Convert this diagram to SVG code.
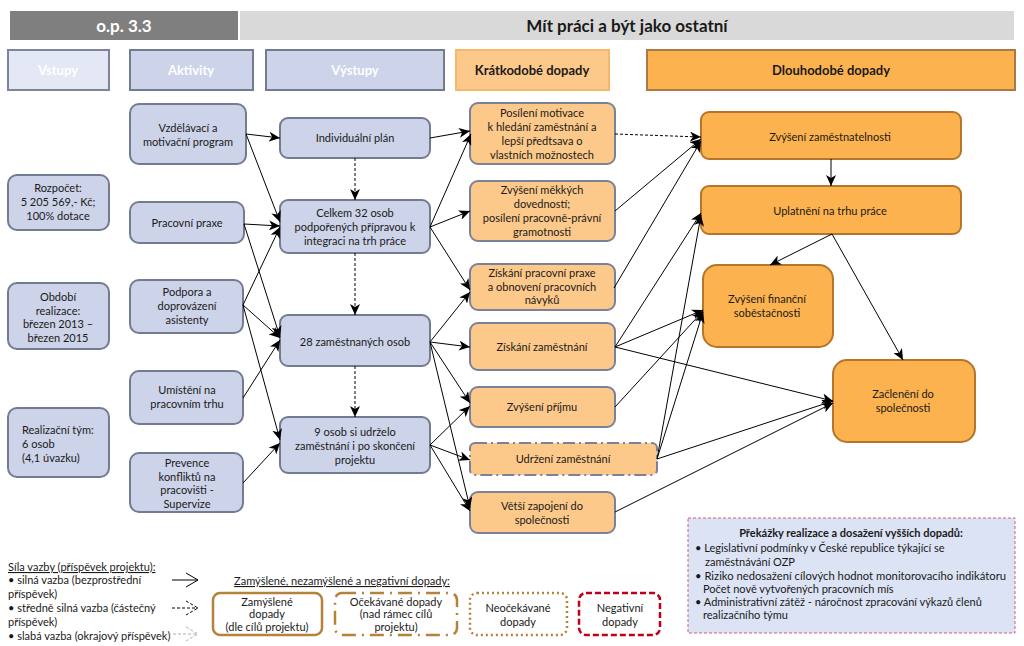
<svg xmlns="http://www.w3.org/2000/svg" width="1024" height="646" viewBox="0 0 1024 646">
<defs>
<marker id="ah" markerUnits="userSpaceOnUse" markerWidth="12" markerHeight="10" refX="11" refY="5" orient="auto">
<path d="M0,0 L11,5 L0,10 L3,5 z" fill="#000"/>
</marker>
<style>
text{font-family:Lato,"Liberation Sans",sans-serif;font-size:11px;fill:#1a1a1a;text-anchor:middle}
.hd{font-weight:bold;font-size:13px}
.wh{fill:#fff}
.blue{fill:#cdd3e8;stroke:#737b93;stroke-width:2}
.sh{fill:#fdc98a;stroke:#7b8196;stroke-width:2}
.lg{fill:#fbb24f;stroke:#b5752a;stroke-width:2}
.c{fill:none;stroke:#000;stroke-width:1;marker-end:url(#ah)}
.d{stroke-dasharray:3,2}
.l{text-anchor:start}
.lb{fill:#fff;stroke:#b5823c;stroke-width:2.5}
</style>
</defs>
<rect width="1024" height="646" fill="#fff"/>

<g id="header">
<rect x="10" y="11" width="228" height="29" fill="#7f7f7f"/>
<text x="124" y="32" class="wh" style="font-weight:bold;font-size:17px">o.p. 3.3</text>
<rect x="240" y="11" width="774" height="29" fill="#d9d9d9"/>
<text x="627" y="32" style="font-weight:bold;font-size:17px">Mít práci a být jako ostatní</text>
</g>

<g id="col-headers">
<rect x="8" y="50" width="101" height="40" fill="#e4e8f4" stroke="#7c849c" stroke-width="2"/>
<text x="58" y="75" class="hd wh">Vstupy</text>
<rect x="130" y="50" width="123" height="40" fill="#cdd3e8" stroke="#737b93" stroke-width="2"/>
<text x="191" y="75" class="hd wh">Aktivity</text>
<rect x="266" y="50" width="178" height="40" fill="#cdd3e8" stroke="#737b93" stroke-width="2"/>
<text x="355" y="75" class="hd wh">Výstupy</text>
<rect x="456" y="50" width="153" height="40" fill="#fdc98a" stroke="#f5b86a" stroke-width="2"/>
<text x="532" y="75" class="hd">Krátkodobé dopady</text>
<rect x="647" y="50" width="368" height="40" fill="#fbb24f" stroke="#a87a45" stroke-width="2"/>
<text x="831" y="75" class="hd">Dlouhodobé dopady</text>
</g>

<g id="n-rozpocet"><rect x="8" y="175" width="101" height="55" rx="9" class="blue"/>
<text x="58" y="192">Rozpočet:</text><text x="58" y="206">5 205 569,- Kč;</text><text x="58" y="220">100% dotace</text></g>
<g id="n-obdobi"><rect x="8" y="283" width="101" height="66" rx="9" class="blue"/>
<text x="58" y="301">Období</text><text x="58" y="315">realizace:</text><text x="58" y="328">březen 2013  –</text><text x="58" y="342">březen 2015</text></g>
<g id="n-tym"><rect x="8" y="408" width="101" height="69" rx="9" class="blue"/>
<text x="22" y="434" class="l">Realizační tým:</text><text x="22" y="448" class="l">6 osob</text><text x="22" y="462" class="l">(4,1 úvazku)</text></g>

<g id="n-vzdel"><rect x="130" y="104" width="116" height="60" rx="9" class="blue"/>
<text x="188" y="132">Vzdělávací a</text><text x="188" y="146">motivační program</text></g>
<g id="n-praxe"><rect x="130" y="202" width="114" height="41" rx="9" class="blue"/>
<text x="187" y="227">Pracovní praxe</text></g>
<g id="n-podpora"><rect x="130" y="280" width="113" height="53" rx="9" class="blue"/>
<text x="187" y="296">Podpora a</text><text x="187" y="310">doprovázení</text><text x="187" y="324">asistenty</text></g>
<g id="n-umisteni"><rect x="130" y="371" width="113" height="53" rx="9" class="blue"/>
<text x="187" y="394">Umístění na</text><text x="187" y="408">pracovním trhu</text></g>
<g id="n-prevence"><rect x="130" y="453" width="113" height="59" rx="9" class="blue"/>
<text x="187" y="467">Prevence</text><text x="187" y="481">konfliktů na</text><text x="187" y="494">pracovišti -</text><text x="187" y="508">Supervize</text></g>

<g id="n-plan"><rect x="280" y="118" width="150" height="40" rx="8" class="blue"/>
<text x="355" y="142">Individuální plán</text></g>
<g id="n-celkem"><rect x="280" y="200" width="150" height="53" rx="8" class="blue"/>
<text x="355" y="217">Celkem 32 osob</text><text x="355" y="231">podpořených přípravou k</text><text x="355" y="245">integraci na trh práce</text></g>
<g id="n-28"><rect x="280" y="315" width="150" height="51" rx="8" class="blue"/>
<text x="355" y="346">28 zaměstnaných osob</text></g>
<g id="n-9"><rect x="280" y="417" width="150" height="56" rx="8" class="blue"/>
<text x="355" y="436">9 osob si udrželo</text><text x="355" y="450">zaměstnání i po skončení</text><text x="355" y="464">projektu</text></g>

<g id="n-motivace"><rect x="470" y="103" width="145" height="61" rx="8" class="sh"/>
<text x="542" y="117">Posílení  motivace</text><text x="542" y="131">k hledání zaměstnání a</text><text x="542" y="145">lepší předtsava o</text><text x="542" y="159">vlastních možnostech</text></g>
<g id="n-mekke"><rect x="470" y="181" width="145" height="60" rx="8" class="sh"/>
<text x="542" y="194">Zvýšení měkkých</text><text x="542" y="208">dovedností;</text><text x="542" y="222">posílení pracovně-právní</text><text x="542" y="236">gramotnosti</text></g>
<g id="n-praxe2"><rect x="470" y="264" width="145" height="46" rx="8" class="sh"/>
<text x="542" y="277">Získání  pracovní praxe</text><text x="542" y="291">a obnovení pracovních</text><text x="542" y="304">návyků</text></g>
<g id="n-ziskani"><rect x="470" y="323" width="145" height="47" rx="8" class="sh"/>
<text x="542" y="351">Získání  zaměstnání</text></g>
<g id="n-prijem"><rect x="470" y="387" width="145" height="40" rx="8" class="sh"/>
<text x="542" y="411">Zvýšení příjmu</text></g>
<g id="n-udrzeni"><rect x="470" y="443" width="187" height="32" rx="5" fill="#fdc98a" stroke="#7b8196" stroke-width="2" stroke-dasharray="12,4,2,4"/>
<text x="563" y="463">Udržení  zaměstnání</text></g>
<g id="n-zapojeni"><rect x="470" y="492" width="145" height="41" rx="8" class="sh"/>
<text x="542" y="510">Větší zapojení do</text><text x="542" y="524">společnosti</text></g>

<g id="n-zamestnatelnost"><rect x="701" y="112" width="260" height="47" rx="8" class="lg"/>
<text x="830" y="141">Zvýšení zaměstnatelnosti</text></g>
<g id="n-uplatneni"><rect x="701" y="186" width="260" height="48" rx="8" class="lg"/>
<text x="830" y="215">Uplatnění na trhu práce</text></g>
<g id="n-financni"><rect x="703" y="265" width="130" height="82" rx="14" class="lg"/>
<text x="767" y="303">Zvýšení finanční</text><text x="767" y="317">soběstačnosti</text></g>
<g id="n-zacleneni"><rect x="833" y="360" width="142" height="82" rx="14" class="lg"/>
<text x="903" y="398">Začlenění do</text><text x="903" y="412">společnosti</text></g>

<g id="connectors">
<line x1="246" y1="134" x2="280" y2="138" class="c"/>
<line x1="246" y1="134" x2="280" y2="222" class="c"/>
<line x1="244" y1="224" x2="280" y2="226" class="c"/>
<line x1="244" y1="224" x2="280" y2="337" class="c"/>
<line x1="243" y1="305" x2="280" y2="227" class="c"/>
<line x1="243" y1="305" x2="280" y2="338" class="c"/>
<line x1="243" y1="305" x2="280" y2="440" class="c"/>
<line x1="243" y1="398" x2="280" y2="340" class="c"/>
<line x1="243" y1="483" x2="280" y2="443" class="c"/>

<line x1="355" y1="158" x2="355" y2="200" class="c d"/>
<line x1="355" y1="253" x2="355" y2="315" class="c d"/>
<line x1="355" y1="366" x2="355" y2="417" class="c d"/>

<line x1="430" y1="138" x2="470" y2="131" class="c"/>
<line x1="430" y1="227" x2="471" y2="134" class="c"/>
<line x1="430" y1="227" x2="470" y2="211" class="c"/>
<line x1="430" y1="227" x2="470" y2="290" class="c"/>
<line x1="430" y1="342" x2="470" y2="292" class="c"/>
<line x1="430" y1="342" x2="470" y2="347" class="c"/>
<line x1="430" y1="342" x2="470" y2="403" class="c"/>
<line x1="430" y1="342" x2="470" y2="508" class="c"/>
<line x1="430" y1="445" x2="470" y2="406" class="c"/>
<line x1="430" y1="445" x2="470" y2="460" class="c"/>
<line x1="430" y1="445" x2="470" y2="511" class="c"/>

<line x1="615" y1="134" x2="701" y2="137" class="c d"/>
<line x1="615" y1="211" x2="701" y2="139" class="c"/>
<line x1="614" y1="288" x2="701" y2="141" class="c"/>
<line x1="615" y1="347" x2="701" y2="213" class="c"/>
<line x1="657" y1="459" x2="701" y2="215" class="c"/>
<line x1="615" y1="347" x2="703" y2="310" class="c"/>
<line x1="615" y1="407" x2="703" y2="311" class="c"/>
<line x1="657" y1="459" x2="703" y2="312" class="c"/>
<line x1="615" y1="347" x2="833" y2="401" class="c"/>
<line x1="657" y1="459" x2="833" y2="401" class="c"/>
<line x1="615" y1="512" x2="833" y2="403" class="c"/>
<line x1="831" y1="159" x2="831" y2="186" class="c"/>
<line x1="832" y1="234" x2="770" y2="265" class="c"/>
<line x1="832" y1="234" x2="903" y2="360" class="c"/>
</g>

<g id="legend-strength">
<text x="8" y="571" class="l" text-decoration="underline">Síla vazby (příspěvek projektu):</text>
<text x="8" y="584" class="l">• silná vazba (bezprostřední</text>
<text x="8" y="598" class="l">příspěvek)</text>
<text x="8" y="612" class="l">• středně silná vazba (částečný</text>
<text x="8" y="626" class="l">příspěvek)</text>
<text x="8" y="640" class="l">• slabá vazba (okrajový příspěvek)</text>
<g fill="none" stroke="#000" stroke-width="1">
<path d="M172,580 H198 M186,573 L198,580 L186,587"/>
<path d="M172,608 H198 M186,601 L198,608 L186,615" stroke-dasharray="3,2"/>
<path d="M168,634 H198 M186,627 L198,634 L186,641" stroke="#b0b0b0" stroke-dasharray="3,2"/>
</g>
</g>

<g id="legend-impacts">
<text x="342" y="585" text-decoration="underline">Zamýšlené, nezamýšlené a negativní dopady:</text>
<rect x="213" y="593" width="109" height="42" rx="7" class="lb"/>
<text x="267" y="606">Zamýšlené</text><text x="267" y="618">dopady</text><text x="267" y="631">(dle cílů projektu)</text>
<rect x="335" y="593" width="122" height="42" rx="7" class="lb" stroke-dasharray="14,6,2,6"/>
<text x="396" y="606">Očekávané dopady</text><text x="396" y="618">(nad rámec  cílů</text><text x="396" y="631">projektu)</text>
<rect x="470" y="593" width="97" height="42" rx="7" class="lb" stroke-dasharray="2,3"/>
<text x="518" y="612">Neočekávané</text><text x="518" y="626">dopady</text>
<rect x="579" y="593" width="81" height="42" rx="7" fill="#fff" stroke="#c0001a" stroke-width="2.5" stroke-dasharray="6,3"/>
<text x="620" y="612">Negativní</text><text x="620" y="626">dopady</text>
</g>

<g id="obstacles">
<rect x="688" y="518" width="327" height="115" fill="#dce3f4" stroke="#d0606f" stroke-width="1" stroke-dasharray="3,2"/>
<text x="851" y="537" style="font-weight:bold">Překážky realizace a dosažení vyšších dopadů:</text>
<text x="695" y="552" class="l">• Legislativní podmínky v České republice týkající se</text>
<text x="705" y="566" class="l">zaměstnávání  OZP</text>
<text x="695" y="580" class="l" textLength="311" lengthAdjust="spacingAndGlyphs">• Riziko nedosažení cílových hodnot monitorovacího indikátoru</text>
<text x="703" y="593" class="l">Počet nově vytvořených pracovních  mís</text>
<text x="695" y="606" class="l">• Administrativní zátěž - náročnost zpracování výkazů členů</text>
<text x="703" y="619" class="l">realizačního týmu</text>
</g>
</svg>
